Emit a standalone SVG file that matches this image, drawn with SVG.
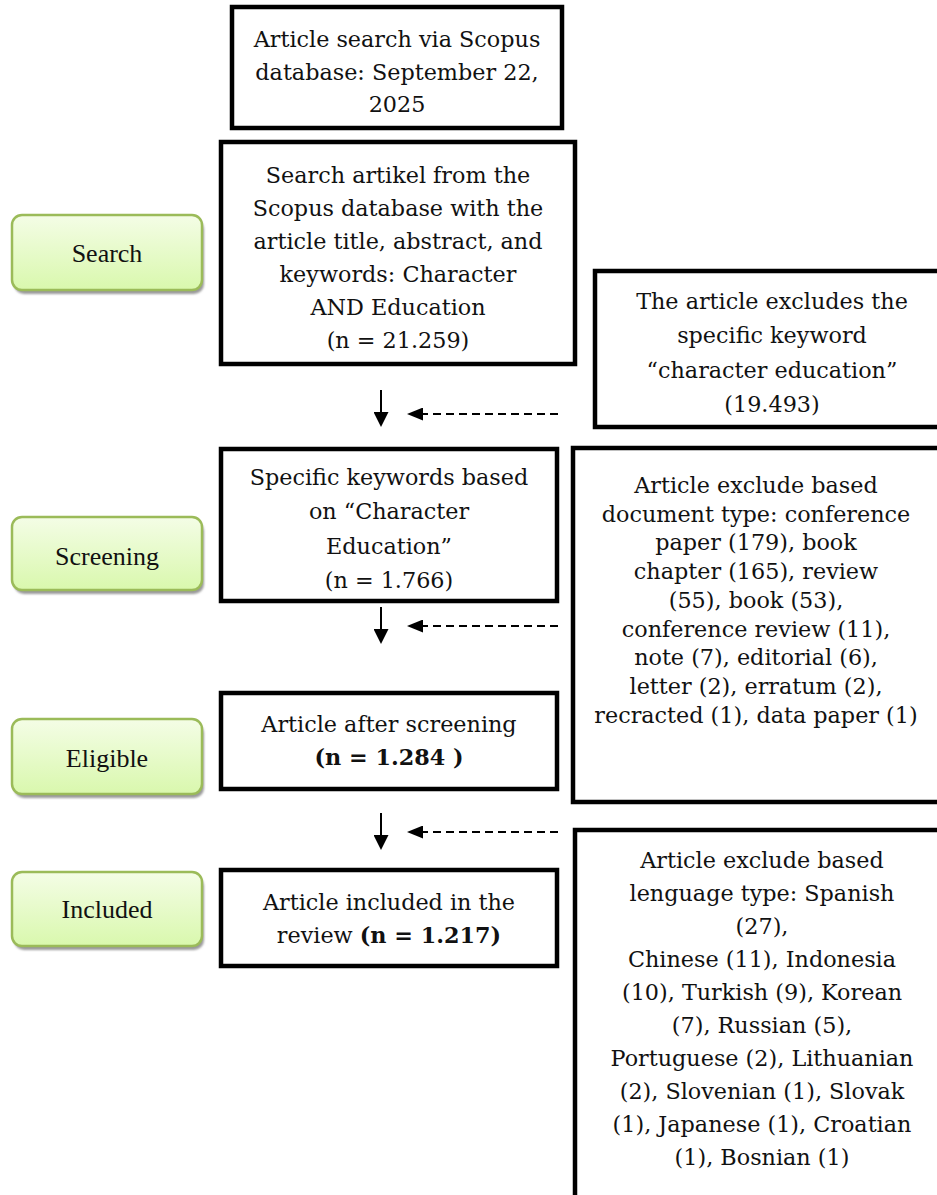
<svg xmlns="http://www.w3.org/2000/svg" width="937" height="1195" viewBox="0 0 937 1195">
<style>
.box{fill:#fff;stroke:#000;stroke-width:4.5}
.stage{fill:url(#g);stroke:#9bbb59;stroke-width:2.5}
.shadow{fill:#9a9a9a;filter:url(#sh)}
.t{font-family:"DejaVu Serif","Liberation Serif",serif;font-size:22.3px;fill:#111;text-anchor:middle}
.b{font-weight:bold}
.lab{font-family:"Liberation Serif",serif;font-size:26px;fill:#111;text-anchor:middle}
.arr{stroke:#000;stroke-width:2;fill:none}
.dash{stroke:#000;stroke-width:2;fill:none;stroke-dasharray:8 5}
</style>
<defs>
<linearGradient id="g" x1="0" y1="0" x2="0" y2="1"><stop offset="0" stop-color="#f4fde6"/><stop offset="1" stop-color="#d9f8ad"/></linearGradient>
<filter id="sh" x="-10%" y="-20%" width="120%" height="140%"><feGaussianBlur stdDeviation="1.3"/></filter>
<marker id="hd" viewBox="0 0 15 15" refX="3" refY="7.5" markerWidth="15" markerHeight="15" markerUnits="userSpaceOnUse" orient="auto"><path d="M0,0 L15,7.5 L0,15 z" fill="#000"/></marker>
<marker id="hl" viewBox="0 0 16 13" refX="3" refY="6.5" markerWidth="16" markerHeight="13" markerUnits="userSpaceOnUse" orient="auto"><path d="M0,0 L16,6.5 L0,13 z" fill="#000"/></marker>
</defs>
<rect width="937" height="1195" fill="#fff"/>

<g id="stage-search">
<rect class="shadow" x="14" y="219" width="190" height="75" rx="10"/>
<rect class="stage" x="12" y="215" width="190" height="75" rx="10"/>
<text class="lab" x="107" y="262">Search</text>
</g>
<g id="stage-screening">
<rect class="shadow" x="14" y="521" width="190" height="73" rx="10"/>
<rect class="stage" x="12" y="517" width="190" height="73" rx="10"/>
<text class="lab" x="107" y="565">Screening</text>
</g>
<g id="stage-eligible">
<rect class="shadow" x="14" y="723" width="190" height="75" rx="10"/>
<rect class="stage" x="12" y="719" width="190" height="75" rx="10"/>
<text class="lab" x="107" y="767">Eligible</text>
</g>
<g id="stage-included">
<rect class="shadow" x="14" y="876" width="190" height="74" rx="10"/>
<rect class="stage" x="12" y="872" width="190" height="74" rx="10"/>
<text class="lab" x="107" y="918">Included</text>
</g>

<g id="box-search-date">
<rect class="box" x="232" y="7" width="330" height="121"/>
<text class="t" x="397" y="47">Article search via Scopus</text>
<text class="t" x="397" y="79.5">database: September 22,</text>
<text class="t" x="397" y="112">2025</text>
</g>
<g id="box-search">
<rect class="box" x="221" y="142" width="354" height="222"/>
<text class="t" x="398" y="183">Search artikel from the</text>
<text class="t" x="398" y="216">Scopus database with the</text>
<text class="t" x="398" y="249">article title, abstract, and</text>
<text class="t" x="398" y="282">keywords: Character</text>
<text class="t" x="398" y="315">AND Education</text>
<text class="t" x="398" y="348">(n = 21.259)</text>
</g>
<g id="box-screening">
<rect class="box" x="221" y="449" width="336" height="152"/>
<text class="t" x="389" y="485">Specific keywords based</text>
<text class="t" x="389" y="519">on “Character</text>
<text class="t" x="389" y="554">Education”</text>
<text class="t" x="389" y="588">(n = 1.766)</text>
</g>
<g id="box-eligible">
<rect class="box" x="221" y="693" width="336" height="96"/>
<text class="t" x="389" y="732">Article after screening</text>
<text class="t b" x="389" y="765">(n = 1.284 )</text>
</g>
<g id="box-included">
<rect class="box" x="221" y="870" width="336" height="96"/>
<text class="t" x="389" y="910">Article included in the</text>
<text class="t" x="389" y="943">review <tspan class="b">(n = 1.217)</tspan></text>
</g>

<g id="box-excl-keyword">
<rect class="box" x="595" y="271" width="360" height="156"/>
<text class="t" x="772" y="309">The article excludes the</text>
<text class="t" x="772" y="343">specific keyword</text>
<text class="t" x="772" y="378">“character education”</text>
<text class="t" x="772" y="412">(19.493)</text>
</g>
<g id="box-excl-doctype">
<rect class="box" x="573" y="448" width="380" height="354"/>
<text class="t" x="756" y="493">Article exclude based</text>
<text class="t" x="756" y="522">document type: conference</text>
<text class="t" x="756" y="550">paper (179), book</text>
<text class="t" x="756" y="579">chapter (165), review</text>
<text class="t" x="756" y="608">(55), book (53),</text>
<text class="t" x="756" y="637">conference review (11),</text>
<text class="t" x="756" y="665">note (7), editorial (6),</text>
<text class="t" x="756" y="694">letter (2), erratum (2),</text>
<text class="t" x="756" y="723">recracted (1), data paper (1)</text>
</g>
<g id="box-excl-language">
<rect class="box" x="575" y="830" width="375" height="400"/>
<text class="t" x="762" y="868">Article exclude based</text>
<text class="t" x="762" y="901">lenguage type: Spanish</text>
<text class="t" x="762" y="934">(27),</text>
<text class="t" x="762" y="967">Chinese (11), Indonesia</text>
<text class="t" x="762" y="1000">(10), Turkish (9), Korean</text>
<text class="t" x="762" y="1033">(7), Russian (5),</text>
<text class="t" x="762" y="1066">Portuguese (2), Lithuanian</text>
<text class="t" x="762" y="1099">(2), Slovenian (1), Slovak</text>
<text class="t" x="762" y="1132">(1), Japanese (1), Croatian</text>
<text class="t" x="762" y="1165">(1), Bosnian (1)</text>
</g>

<g id="connectors">
<line class="arr" x1="381" y1="390" x2="381" y2="415" marker-end="url(#hd)"/>
<line class="dash" x1="558" y1="414" x2="420" y2="414" marker-end="url(#hl)"/>
<line class="arr" x1="381" y1="607" x2="381" y2="632" marker-end="url(#hd)"/>
<line class="dash" x1="558" y1="626" x2="420" y2="626" marker-end="url(#hl)"/>
<line class="arr" x1="381" y1="813" x2="381" y2="838" marker-end="url(#hd)"/>
<line class="dash" x1="558" y1="832" x2="420" y2="832" marker-end="url(#hl)"/>
</g>
</svg>
